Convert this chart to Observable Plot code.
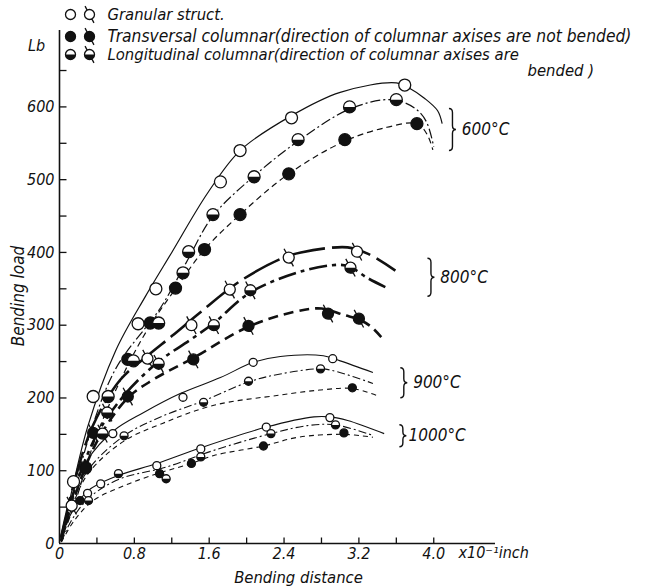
<!DOCTYPE html>
<html><head><meta charset="utf-8">
<script src="https://cdn.jsdelivr.net/npm/d3@7"></script>
<script src="https://cdn.jsdelivr.net/npm/@observablehq/plot@0.6"></script>
<style>
body{margin:0;background:#fff;}
#chart svg{font-family:"Liberation Sans Narrow","DejaVu Sans Condensed","Liberation Sans",sans-serif;font-style:italic;}
</style></head><body><div id="chart"></div>
<script>
// ---------- DATA ----------
const temps = ["600°C", "800°C", "900°C", "1000°C"];
const structs = [
  "Granular struct.",
  "Transversal columnar(direction of columnar axises are not bended)",
  "Longitudinal columnar(direction of columnar axises are",
  "bended )"
];
const xTickValues = [0.4, 0.8, 1.2, 1.6, 2.0, 2.4, 2.8, 3.2, 3.6, 4.0];
const xLabelValues = [0, 0.8, 1.6, 2.4, 3.2, 4.0];
const xLabelTexts = ["0", "0.8", "1.6", "2.4", "3.2", "4.0"];
const yTickValues = [50, 100, 150, 200, 250, 300, 350, 400, 450, 500, 550, 600, 650];
const yLabelValues = [0, 100, 200, 300, 400, 500, 600];
const yLabelTexts = ["0", "100", "200", "300", "400", "500", "600"];

// measured points (x: ×10^-1 inch, y: lb)
const g600x = [0.15, 0.36, 0.84, 1.03, 1.72, 1.93, 2.48, 3.69];
const g600y = [85, 202, 302, 350, 497, 540, 585, 630];
const t600x = [0.28, 0.73, 0.97, 1.24, 1.55, 1.93, 2.45, 3.05, 3.82];
const t600y = [104, 253, 303, 351, 404, 452, 508, 555, 577];
const l600x = [0.52, 0.79, 1.06, 1.32, 1.38, 1.64, 2.08, 2.55, 3.1, 3.6];
const l600y = [202, 251, 303, 372, 401, 452, 504, 555, 600, 610];

const g800x = [0.13, 0.94, 1.41, 1.82, 2.45, 3.18];
const g800y = [52, 254, 300, 349, 393, 401];
const t800x = [0.36, 0.73, 1.43, 2.02, 2.87, 3.2];
const t800y = [152, 202, 253, 299, 316, 309];
const l800x = [0.46, 0.51, 1.06, 1.65, 2.04, 3.11];
const l800y = [151, 180, 247, 300, 348, 379];

const g900x = [0.57, 1.32, 2.07, 2.92];
const g900y = [151, 201, 249, 254];
const t900x = [3.13];
const t900y = [214];
const l900x = [0.69, 1.54, 2.02, 2.79];
const l900y = [148, 194, 223, 240];

const g1000x = [0.30, 0.44, 1.04, 1.51, 2.21, 2.89];
const g1000y = [69, 82, 107, 130, 160, 173];
const t1000x = [0.22, 1.07, 1.41, 2.18, 3.04];
const t1000y = [59, 96, 110, 134, 152];
const l1000x = [0.31, 0.63, 1.14, 1.51, 2.26, 2.95];
const l1000y = [59, 96, 89, 119, 151, 163];

// drawn curves
const g600cx = [0.01, 0.1, 0.3, 0.6, 0.92, 1.2, 1.58, 1.93, 2.48, 3.0, 3.6, 3.75, 3.9, 4.04, 4.09];
const g600cy = [8, 55, 160, 265, 340, 400, 481, 540, 588, 620, 633, 625, 612, 595, 577];
const l600cx = [0.01, 0.12, 0.3, 0.6, 1.08, 1.35, 1.64, 2.08, 2.55, 3.1, 3.55, 3.8, 3.92, 4.0];
const l600cy = [5, 50, 140, 240, 324, 385, 450, 505, 553, 597, 610, 598, 580, 545];
const t600cx = [0.01, 0.15, 0.4, 0.73, 0.97, 1.24, 1.55, 1.93, 2.45, 3.05, 3.5, 3.82, 3.93, 3.99];
const t600cy = [3, 50, 150, 245, 300, 350, 404, 452, 508, 553, 572, 577, 562, 541];

const g800cx = [0.02, 0.15, 0.35, 0.65, 0.94, 1.2, 1.49, 1.9, 2.36, 2.58, 3.08, 3.3, 3.59];
const g800cy = [10, 80, 160, 225, 258, 285, 316, 358, 391, 400, 407, 398, 375];
const l800cx = [0.02, 0.15, 0.4, 0.7, 1.06, 1.4, 1.65, 2.04, 2.61, 3.0, 3.11, 3.29, 3.52];
const l800cy = [8, 70, 150, 205, 250, 280, 303, 345, 375, 383, 380, 365, 350];
const t800cx = [0.02, 0.15, 0.4, 0.73, 1.0, 1.43, 2.02, 2.5, 2.8, 3.04, 3.2, 3.33, 3.47];
const t800cy = [5, 60, 140, 200, 225, 255, 298, 318, 323, 314, 308, 298, 279];

const g900cx = [0.02, 0.12, 0.3, 0.58, 0.9, 1.29, 1.72, 2.07, 2.36, 2.82, 3.0, 3.35];
const g900cy = [5, 60, 115, 155, 180, 206, 228, 249, 257, 258, 251, 235];
const l900cx = [0.02, 0.12, 0.3, 0.69, 1.1, 1.54, 2.02, 2.36, 2.79, 2.97, 3.35];
const l900cy = [4, 50, 100, 148, 175, 196, 222, 233, 240, 236, 220];
const t900cx = [0.02, 0.12, 0.3, 0.68, 1.1, 1.65, 2.36, 2.79, 3.13, 3.4];
const t900cy = [3, 45, 95, 140, 165, 190, 204, 211, 213, 203];

const g1000cx = [0.02, 0.1, 0.3, 0.6, 1.04, 1.52, 2.21, 2.72, 2.89, 3.08, 3.47];
const g1000cy = [3, 35, 72, 92, 110, 132, 160, 174, 174, 169, 151];
const l1000cx = [0.02, 0.12, 0.31, 0.63, 1.14, 1.65, 2.26, 2.65, 2.95, 3.36];
const l1000cy = [2, 30, 62, 88, 105, 128, 151, 162, 163, 148];
const t1000cx = [0.02, 0.15, 0.35, 0.7, 1.07, 1.41, 1.65, 2.18, 2.55, 3.04, 3.35];
const t1000cy = [2, 30, 58, 80, 97, 110, 121, 134, 146, 150, 146];

// ---------- LAYOUT / STYLE ----------
const annotations = [
  {label: temps[0], bx: 4.2, by: 569, h: 42, tx: 4.3},
  {label: temps[1], bx: 3.97, by: 366, h: 38, tx: 4.07},
  {label: temps[2], bx: 3.68, by: 221, h: 30, tx: 3.78},
  {label: temps[3], bx: 3.67, by: 148, h: 22, tx: 3.73}
];
const tempStyle = {
  "600°C": {r: 6, stem: false, sw: 1.2, dash: {g: null, l: "10,3,2,3", t: "6,4"}},
  "800°C": {r: 5.5, stem: true, sw: 2.6, dash: {g: "40,7", l: "18,5,4,5", t: "10,6"}},
  "900°C": {r: 4, stem: false, sw: 1.1, dash: {g: null, l: "8,3,2,3", t: "5,4"}},
  "1000°C": {r: 4, stem: false, sw: 1.1, dash: {g: null, l: "8,3,2,3", t: "5,4"}}
};
const series = [
  [temps[0], "g", g600x, g600y, g600cx, g600cy],
  [temps[0], "t", t600x, t600y, t600cx, t600cy],
  [temps[0], "l", l600x, l600y, l600cx, l600cy],
  [temps[1], "g", g800x, g800y, g800cx, g800cy],
  [temps[1], "t", t800x, t800y, t800cx, t800cy],
  [temps[1], "l", l800x, l800y, l800cx, l800cy],
  [temps[2], "g", g900x, g900y, g900cx, g900cy],
  [temps[2], "t", t900x, t900y, t900cx, t900cy],
  [temps[2], "l", l900x, l900y, l900cx, l900cy],
  [temps[3], "g", g1000x, g1000y, g1000cx, g1000cy],
  [temps[3], "t", t1000x, t1000y, t1000cx, t1000cy],
  [temps[3], "l", l1000x, l1000y, l1000cx, l1000cy]
];

// ---------- SYMBOLS ----------
const SA = 62 * Math.PI / 180;
const stemCircle = {draw(ctx, size) {
  const r = Math.sqrt(size / Math.PI), ux = Math.cos(SA), uy = Math.sin(SA), L = 4.5;
  ctx.moveTo(r, 0); ctx.arc(0, 0, r, 0, 2 * Math.PI); ctx.closePath();
  ctx.moveTo(-ux * r, -uy * r); ctx.lineTo(-ux * (r + L), -uy * (r + L));
  ctx.moveTo(ux * r, uy * r); ctx.lineTo(ux * (r + L), uy * (r + L));
}};
const lowerHalf = {draw(ctx, size) {
  const r = Math.sqrt(size / Math.PI);
  ctx.moveTo(r, 0); ctx.arc(0, 0, r, 0, Math.PI); ctx.closePath();
}};
const yTickSym = {draw(ctx) { ctx.moveTo(0, 0); ctx.lineTo(7, 0); }};
const xTickSym = {draw(ctx) { ctx.moveTo(0, 0); ctx.lineTo(0, -6); }};
function braceSym(h) {
  return {draw(ctx) {
    const a = h / 2, w = 3.5;
    ctx.moveTo(-w, -a);
    ctx.quadraticCurveTo(0, -a, 0, -a + 4);
    ctx.lineTo(0, -4);
    ctx.quadraticCurveTo(0, 0, w, 0);
    ctx.quadraticCurveTo(0, 0, 0, 4);
    ctx.lineTo(0, a - 4);
    ctx.quadraticCurveTo(0, a, -w, a);
  }};
}

// ---------- MARKS ----------
const lineMarks = [], dotMarks = [];
for (const [t, s, px, py, cx, cy] of series) {
  const st = tempStyle[t];
  const curve = cx.map((x, i) => ({x, y: cy[i]}));
  lineMarks.push(Plot.line(curve, {x: "x", y: "y", curve: "catmull-rom", stroke: "#111",
    strokeWidth: st.sw, strokeDasharray: st.dash[s] || undefined, strokeLinecap: "butt"}));
  const pts = px.map((x, i) => ({x, y: py[i]}));
  const sym = st.stem ? stemCircle : "circle";
  dotMarks.push(Plot.dot(pts, {x: "x", y: "y", r: st.r, symbol: sym,
    fill: s === "t" ? "#111" : "white", stroke: "#111", strokeWidth: 1.3}));
  if (s === "l") dotMarks.push(Plot.dot(pts, {x: "x", y: "y", r: st.r, symbol: lowerHalf, fill: "#111", stroke: "none"}));
}

const font = {fontStyle: "italic", fill: "#111", lineAnchor: "middle"};
const legendRows = [
  {dy: -16, fill: "white", half: false, text: structs[0], fs: 16.5},
  {dy: 6, fill: "#111", half: false, text: structs[1], fs: 17.3},
  {dy: 24, fill: "white", half: true, text: structs[2], fs: 16.5}
];
const legendMarks = [];
for (const row of legendRows) {
  legendMarks.push(Plot.dot([row.text], {frameAnchor: "top-left", dx: 11, dy: row.dy, r: 5, symbol: "circle", fill: row.fill, stroke: "#111", strokeWidth: 1.3}));
  legendMarks.push(Plot.dot([row.text], {frameAnchor: "top-left", dx: 30, dy: row.dy, r: 5, symbol: stemCircle, fill: row.fill, stroke: "#111", strokeWidth: 1.3}));
  if (row.half) {
    legendMarks.push(Plot.dot([row.text], {frameAnchor: "top-left", dx: 11, dy: row.dy, r: 5, symbol: lowerHalf, fill: "#111", stroke: "none"}));
    legendMarks.push(Plot.dot([row.text], {frameAnchor: "top-left", dx: 30, dy: row.dy, r: 5, symbol: lowerHalf, fill: "#111", stroke: "none"}));
  }
  legendMarks.push(Plot.text([row.text], {frameAnchor: "top-left", text: d => d, dx: 48, dy: row.dy, textAnchor: "start", fontSize: row.fs, ...font}));
}
legendMarks.push(Plot.text([structs[3]], {frameAnchor: "top-left", text: d => d, dx: 468, dy: 40, textAnchor: "start", fontSize: 16.5, ...font}));

const chart = Plot.plot({
  width: 650, height: 587,
  marginTop: 30, marginRight: 155, marginBottom: 44, marginLeft: 59,
  x: {domain: [0, 4.66], axis: null},
  y: {domain: [0, 705], axis: null},
  style: {background: "white", overflow: "visible"},
  marks: [
    Plot.ruleX([0], {stroke: "#111", strokeWidth: 1.6}),
    Plot.ruleY([0], {stroke: "#111", strokeWidth: 1.6}),
    Plot.dot(yTickValues, {x: () => 0, y: d => d, symbol: yTickSym, r: 1, stroke: "#111", strokeWidth: 1.3, fill: "none"}),
    Plot.dot(xTickValues, {x: d => d, y: () => 0, symbol: xTickSym, r: 1, stroke: "#111", strokeWidth: 1.3, fill: "none"}),
    Plot.text(xLabelValues, {x: d => d, frameAnchor: "bottom", text: (d, i) => xLabelTexts[i], dy: 10, fontSize: 16, textAnchor: "middle", ...font}),
    Plot.text(yLabelValues, {y: d => d, frameAnchor: "left", text: (d, i) => yLabelTexts[i], dx: -5, textAnchor: "end", fontSize: 16, ...font}),
    Plot.text(["x10⁻¹inch"], {frameAnchor: "bottom-left", text: d => d, dx: 399, dy: 9, textAnchor: "start", fontSize: 16, ...font}),
    Plot.text(["Bending distance"], {frameAnchor: "bottom", text: d => d, dx: 21, dy: 34, fontSize: 16.5, textAnchor: "middle", ...font}),
    Plot.text(["Bending load"], {frameAnchor: "left", text: d => d, dx: -41, dy: 9, rotate: -90, fontSize: 17, textAnchor: "middle", ...font}),
    Plot.text(["Lb"], {frameAnchor: "top-left", text: d => d, dx: -23, dy: 15, fontSize: 16, textAnchor: "middle", ...font}),
    ...lineMarks,
    ...dotMarks,
    ...annotations.map(a => Plot.dot([a], {x: "bx", y: "by", symbol: braceSym(a.h), r: 1, fill: "none", stroke: "#111", strokeWidth: 1.4})),
    Plot.text(annotations, {x: "tx", y: "by", text: "label", textAnchor: "start", fontSize: 17, ...font}),
    ...legendMarks
  ]
});
document.getElementById("chart").appendChild(chart);
</script>
</body></html>
